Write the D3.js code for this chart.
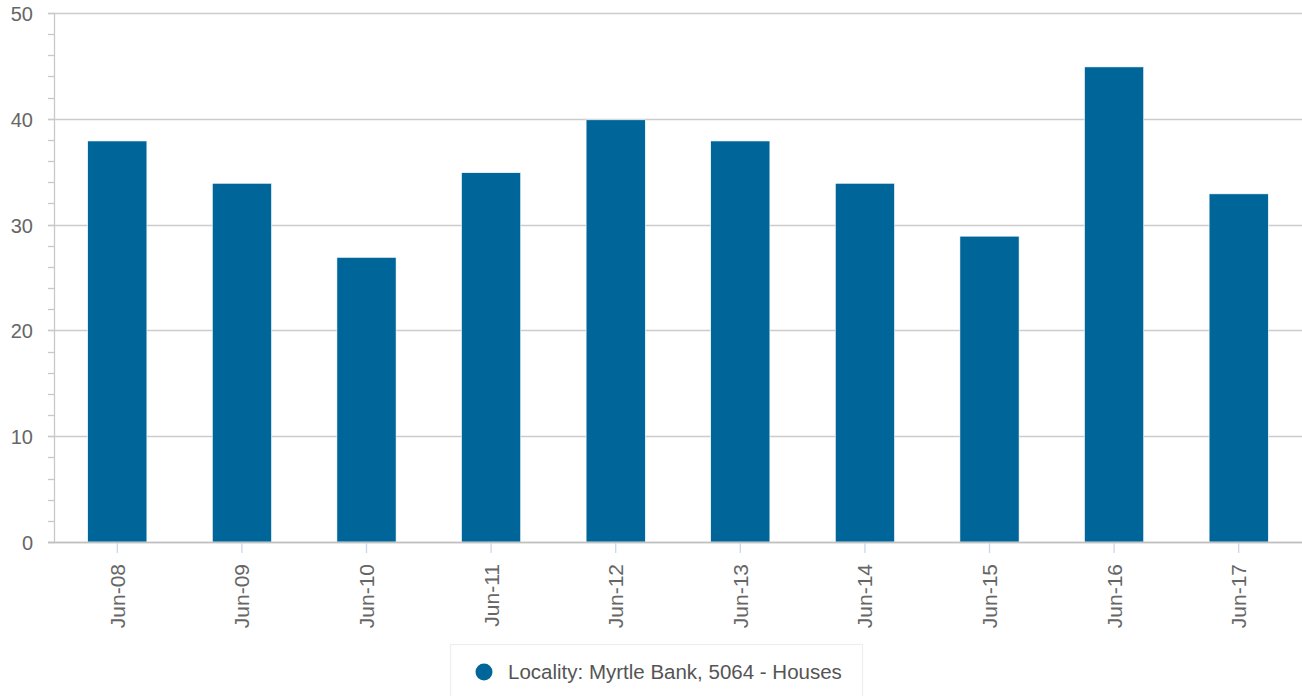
<!DOCTYPE html>
<html><head><meta charset="utf-8">
<script src="https://cdn.jsdelivr.net/npm/d3@7"></script>
<style>body{margin:0;background:#fff;font-family:"Liberation Sans",Arial,sans-serif;}</style>
</head><body>
<svg id="c" width="1302" height="696"></svg>
<script>
const categories = ["Jun-08","Jun-09","Jun-10","Jun-11","Jun-12","Jun-13","Jun-14","Jun-15","Jun-16","Jun-17"];
const values = [38, 34, 27, 35, 40, 38, 34, 29, 45, 33];
const yTicks = [0, 10, 20, 30, 40, 50];
const minorTicks = d3.range(0, 50.01, 2);
const seriesName = "Locality: Myrtle Bank, 5064 - Houses";
const color = "#006699";

const svg = d3.select("#c");
const pLeft = 55, pRight = 1301, pTop = 13, pBottom = 542;
const x = d3.scaleBand().domain(categories).range([pLeft, pRight]).paddingInner(0.525).paddingOuter(0.2625);
const y = d3.scaleLinear().domain([0, 50]).range([pBottom, pTop]);

// grid
svg.append("g").selectAll("line").data(yTicks).join("line")
  .attr("x1", 48).attr("x2", 1302)
  .attr("y1", d => Math.round(y(d)) + 0.5).attr("y2", d => Math.round(y(d)) + 0.5)
  .attr("stroke", "#cccccc").attr("stroke-width", 1.3);
// minor ticks
svg.append("g").selectAll("line").data(minorTicks).join("line")
  .attr("x1", 48).attr("x2", pLeft)
  .attr("y1", d => Math.round(y(d)) + 0.5).attr("y2", d => Math.round(y(d)) + 0.5)
  .attr("stroke", "#c8c8c8").attr("stroke-width", 1.3);
// y axis line
svg.append("line").attr("x1", pLeft - 0.5).attr("x2", pLeft - 0.5).attr("y1", pTop).attr("y2", pBottom)
  .attr("stroke", "#c8c8c8").attr("stroke-width", 1.3);
// y labels
svg.append("g").selectAll("text").data(yTicks).join("text")
  .attr("x", 33).attr("y", d => y(d)).attr("dy", "0.4em")
  .attr("text-anchor", "end").attr("font-size", 20).attr("fill", "#666")
  .text(d => d);

// bars
svg.append("g").selectAll("rect").data(values).join("rect")
  .attr("x", (d, i) => x(categories[i]))
  .attr("width", x.bandwidth())
  .attr("y", d => y(d) + 1)
  .attr("height", d => y(0) - y(d) - 1)
  .attr("fill", color).attr("stroke", "#ffffff").attr("stroke-width", 0.6);

// x axis baseline
svg.append("line").attr("x1", 48).attr("x2", 1302).attr("y1", pBottom + 0.5).attr("y2", pBottom + 0.5)
  .attr("stroke", "#c0c0c0").attr("stroke-width", 1.5);
// x ticks
svg.append("g").selectAll("line").data(categories).join("line")
  .attr("x1", d => x(d) + x.bandwidth() / 2).attr("x2", d => x(d) + x.bandwidth() / 2)
  .attr("y1", pBottom + 1).attr("y2", pBottom + 11)
  .attr("stroke", "#ccd6eb").attr("stroke-width", 1.3);
// x labels
svg.append("g").selectAll("text").data(categories).join("text")
  .attr("transform", d => `translate(${x(d) + x.bandwidth() / 2 + 7.5},${pBottom + 22}) rotate(-90)`)
  .attr("text-anchor", "end").attr("font-size", 21).attr("fill", "#666")
  .text(d => d);

// legend
const lg = svg.append("g");
lg.append("rect").attr("x", 450.5).attr("y", 644.5).attr("width", 412).attr("height", 60)
  .attr("fill", "#fff").attr("stroke", "#eeeeee").attr("stroke-width", 1.3);
lg.append("circle").attr("cx", 484).attr("cy", 672).attr("r", 8.5).attr("fill", color);
lg.append("text").attr("x", 508).attr("y", 679).attr("font-size", 20.5).attr("fill", "#555").text(seriesName);
</script>
</body></html>
